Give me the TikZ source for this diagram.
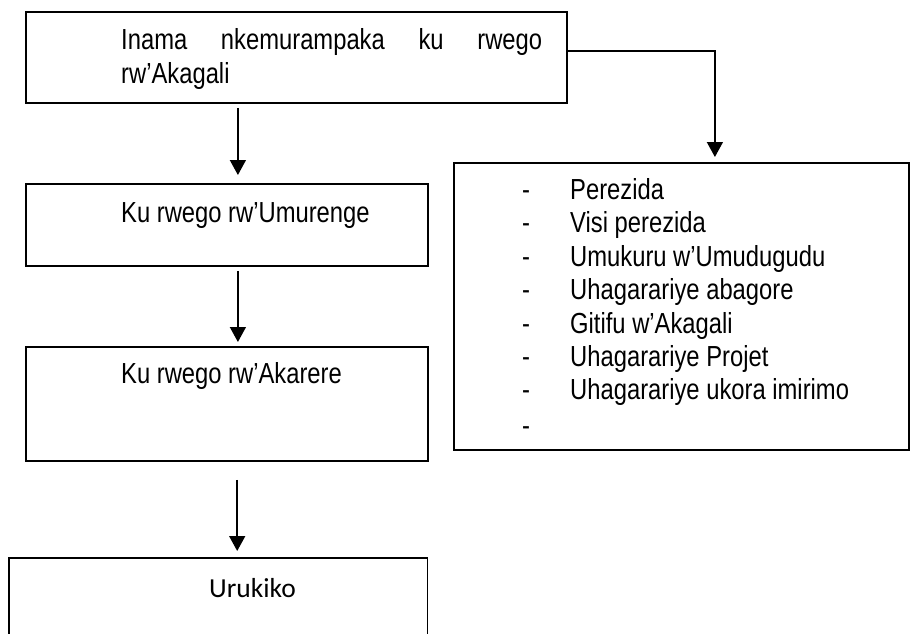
\documentclass[tikz,border=0pt]{standalone}
\usepackage{fontspec}
\setmainfont{Liberation Sans}[FakeStretch=0.82]
\newfontfamily\urfont{Carlito}
\usetikzlibrary{arrows.meta}
\tikzset{
  box/.style={draw=black, line width=1.8pt, rectangle, inner sep=0pt, anchor=north west},
  openbox/.style={rectangle, inner sep=0pt, anchor=north west},
  txt/.style={anchor=base west, inner sep=0pt, font=\fontsize{29pt}{33.4pt}\selectfont},
  urtxt/.style={anchor=base west, inner sep=0pt, font=\urfont\fontsize{27.5pt}{32pt}\selectfont},
  arr/.style={line width=1.5pt, -{Triangle[length=15pt,width=16pt]}}
}
\begin{document}
\begin{tikzpicture}[x=1pt,y=-1pt]
\useasboundingbox (0,0) rectangle (910,634);
% boxes
\node[box, minimum width=541pt, minimum height=91pt] (top) at (25,11) {};
\node[box, minimum width=402pt, minimum height=82pt] (b2) at (25,183) {};
\node[box, minimum width=402pt, minimum height=114pt] (b3) at (25,346) {};
\node[openbox, minimum width=418pt, minimum height=76pt] (b4) at (9,558) {};
\draw[line width=1.8pt] (b4.south west) -- (b4.north west) -- (b4.north east) -- (b4.south east);
\node[box, minimum width=455pt, minimum height=287pt] (rb) at (453,162) {};
% texts
\node[txt] (t1) at (121,50) {\makebox[421pt][s]{Inama\hfill nkemurampaka\hfill ku\hfill rwego}};
\node[txt] (t2) at (121,83.5) {rw’Akagali};
\node[txt] (t3) at (121,222) {Ku rwego rw’Umurenge};
\node[txt] (t4) at (121,383.5) {Ku rwego rw’Akarere};
\node[urtxt] (t5) at (209,597) {Urukiko};
% list
\foreach \i/\s in {0/Perezida,1/Visi perezida,2/Umukuru w’Umudugudu,3/Uhagarariye abagore,4/Gitifu w’Akagali,5/Uhagarariye Projet,6/Uhagarariye ukora imirimo}{
  \node[txt] (d\i) at (522,199.5+33.4*\i) {-};
  \node[txt] (l\i) at (570,199.5+33.4*\i) {\s};
}
\node[txt] (d7) at (522,435) {-};
% connectors
\draw[arr, shorten <=4pt, shorten >=8pt] ([xshift=11pt]b2.north |- top.south) -- ([xshift=11pt]b2.north);
\draw[arr, shorten <=4pt, shorten >=4pt] ([xshift=11pt]b3.north |- b2.south) -- ([xshift=11pt]b3.north);
\draw[arr, shorten <=18pt, shorten >=7pt] ([xshift=19pt]b4.north |- b3.south) -- ([xshift=19pt]b4.north);
\draw[arr, shorten >=5pt] ([yshift=6.5pt]top.east) -| ([xshift=33.5pt]rb.north);
\end{tikzpicture}
\end{document}
